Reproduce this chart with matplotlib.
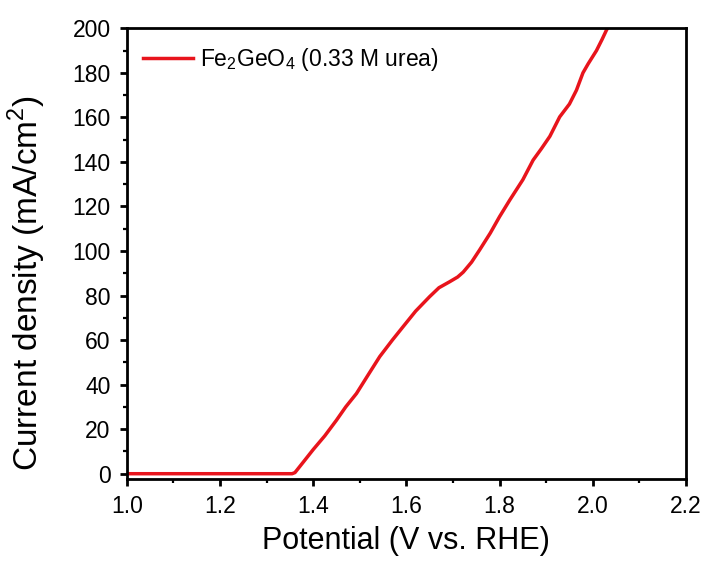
import matplotlib
matplotlib.use("Agg")
import matplotlib.pyplot as plt
from matplotlib.ticker import MultipleLocator, FormatStrFormatter

plt.rcParams['font.family'] = ['Liberation Sans', 'DejaVu Sans']
plt.rcParams['mathtext.fontset'] = 'custom'
plt.rcParams['mathtext.rm'] = 'Liberation Sans'

# LSV curve: potential (V vs. RHE) and current density (mA/cm^2)
potential = [1.00, 1.10, 1.20, 1.30, 1.355, 1.361, 1.38, 1.40, 1.425, 1.45,
             1.47, 1.493, 1.52, 1.543, 1.57, 1.593, 1.62, 1.65, 1.67, 1.693,
             1.71, 1.722, 1.74, 1.757, 1.78, 1.80, 1.822, 1.85, 1.872, 1.89,
             1.908, 1.929, 1.95, 1.965, 1.979, 1.99, 2.008, 2.02, 2.029, 2.034]
current = [0.0, 0.0, 0.0, 0.0, 0.0, 0.5, 5.5, 10.8, 17.0, 24.0,
           30.0, 36.0, 45.0, 52.6, 60.0, 66.0, 73.0, 79.5, 83.5, 86.2,
           88.3, 90.5, 95.0, 100.4, 108.0, 115.4, 122.9, 132.0, 140.8, 146.0,
           151.5, 160.2, 166.0, 172.2, 180.0, 184.0, 190.0, 195.0, 199.0, 201.0]
series_label = r"Fe$_2$GeO$_4$ (0.33 M urea)"

fig = plt.figure(figsize=(7.05, 5.68), dpi=100)
ax = fig.add_axes([0.1797, 0.1562, 0.9730 - 0.1797, 0.9502 - 0.1562])

ax.plot(potential, current, color='#e8141c', lw=2.5, label=series_label,
        solid_joinstyle='round')

ax.set_xlim(1.0, 2.2)
ax.set_ylim(-2.5, 200)
ax.xaxis.set_major_locator(MultipleLocator(0.2))
ax.xaxis.set_minor_locator(MultipleLocator(0.1))
ax.yaxis.set_major_locator(MultipleLocator(20))
ax.yaxis.set_minor_locator(MultipleLocator(10))
ax.xaxis.set_major_formatter(FormatStrFormatter('%.1f'))

for s in ax.spines.values():
    s.set_linewidth(2.0)
ax.tick_params(which='major', direction='out', length=5, width=2.0,
               labelsize=16.5, top=False, right=False)
ax.tick_params(which='minor', direction='out', length=3, width=1.6,
               top=False, right=False)
ax.tick_params(axis='y', which='major', pad=6.5)
ax.tick_params(axis='x', which='major', pad=6)

ax.set_xlabel("Potential (V vs. RHE)", fontsize=22, labelpad=6)
ax.set_ylabel(r"Current density (mA/cm$^2$)", fontsize=24)
ax.yaxis.set_label_coords(-0.14, 0.435)

ax.legend(loc='upper left', frameon=False, fontsize=16.5, handlelength=2.2,
          handletextpad=0.3, borderaxespad=0.0,
          bbox_to_anchor=(0.012, 0.98))

fig.savefig("out.png", dpi=100)
